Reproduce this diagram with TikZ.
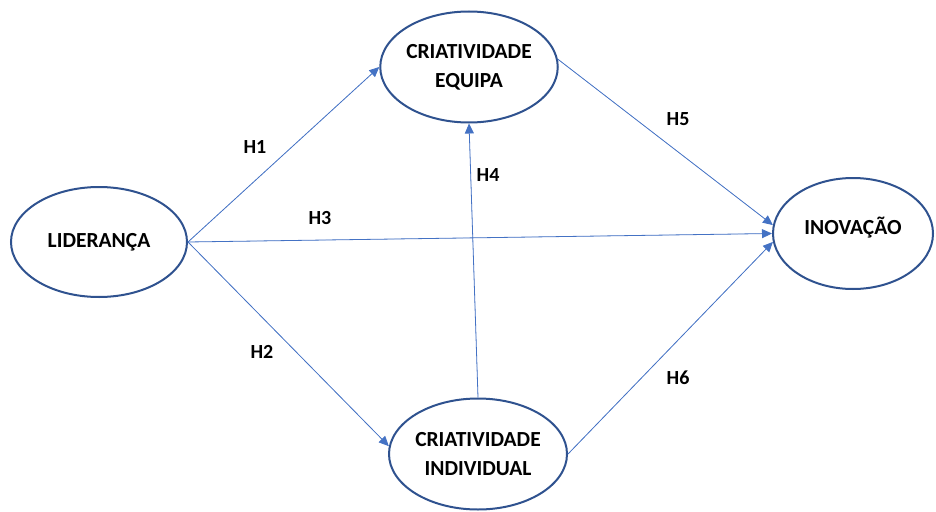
\documentclass[tikz,border=0pt]{standalone}
\usepackage{fontspec}
\setmainfont{Carlito}
\usepackage{tikz}
\usetikzlibrary{positioning}
\usetikzlibrary{arrows.meta}
\usetikzlibrary{shapes.geometric}
\definecolor{edgeblue}{RGB}{68,114,196}
\definecolor{ellblue}{RGB}{47,82,143}
\tikzset{
  construct/.style={draw=ellblue, ellipse, line width=2pt, inner sep=0pt, align=center,
    minimum width=176pt, minimum height=111pt, font=\bfseries\fontsize{21.5}{29}\selectfont},
  hyp/.style={->, >={Triangle[length=10pt,width=9pt]}, draw=edgeblue, fill=edgeblue, line width=0.8pt},
  hlabel/.style={font=\bfseries\fontsize{20}{22}\selectfont}
}

\begin{document}
\begin{tikzpicture}[x=1pt, y=-1pt, node distance=1pt, on grid]
        \useasboundingbox (0,0) rectangle (936,511);
        % nodes %
        \node[construct, minimum width=176pt, minimum height=110pt] (lid) at (99,242) {LIDERANÇA};
        \node[construct, minimum width=174pt, above right=175pt and 370pt of lid] (equipa) {CRIATIVIDADE\\EQUIPA};
        \node[construct, minimum width=178pt, below right=212pt and 379pt of lid] (individual) {CRIATIVIDADE\\INDIVIDUAL};
        \node[construct, minimum width=160pt, above right=8.5pt and 754pt of lid] (inovacao) {\raisebox{16pt}{INOVAÇÃO}};

        % labels %
        \node[hlabel] (h1) at (255,147) {H1};
        \node[hlabel] (h2) at (262,352) {H2};
        \node[hlabel] (h3) at (320,218) {H3};
        \node[hlabel] (h4) at (488,175) {H4};
        \node[hlabel] (h5) at (678,119) {H5};
        \node[hlabel] (h6) at (678,378) {H6};

        % edges %
        \draw[hyp] (lid.east) -- (equipa.west);
        \draw[hyp] (lid.east) -- (individual.175);
        \draw[hyp] (lid.east) -- (inovacao.west);
        \draw[hyp] (individual.north) -- (equipa.south);
        \draw[hyp] (equipa.5) -- (inovacao.174);
        \draw[hyp] (individual.east) -- (inovacao.186);
      \end{tikzpicture}
\end{document}
